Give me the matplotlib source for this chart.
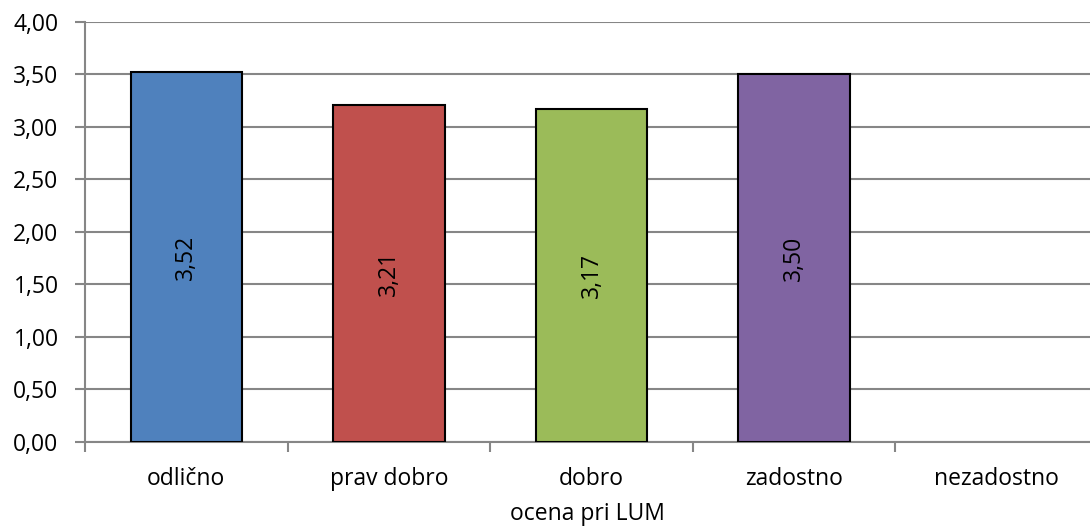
import matplotlib.pyplot as plt
import numpy as np

categories = ['odlično', 'prav dobro', 'dobro', 'zadostno', 'nezadostno']
values = [3.52, 3.21, 3.17, 3.50, 0.0]
colors = ['#4F81BD', '#C0504D', '#9BBB59', '#8064A2', '#4BACC6']
y_ticks = [0.0, 0.5, 1.0, 1.5, 2.0, 2.5, 3.0, 3.5, 4.0]

plt.rcParams['font.family'] = ['Open Sans', 'DejaVu Sans']
grid_col = '#868686'
fs = 16.5

fig = plt.figure(figsize=(10.9, 5.32), dpi=100)
W, H = 1090, 532
left, right, top, bottom = 85, 1098, 21.7, 441.7
ax = fig.add_axes([left / W, 1 - bottom / H, (right - left) / W, (bottom - top) / H])

x = np.arange(len(categories))
for i, (v, c) in enumerate(zip(values, colors)):
    if v <= 0:
        continue
    ax.bar(x[i], v, width=0.55, color=c, edgecolor='black', linewidth=1.5, zorder=3)
    ax.text(x[i], v / 2, f'{v:.2f}'.replace('.', ','), rotation=90,
            ha='center', va='center', fontsize=fs, zorder=4)

ax.set_xlim(-0.5, len(categories) - 0.5)
ax.set_ylim(0, 4)
ax.set_yticks(y_ticks)
ax.set_yticklabels([f'{t:.2f}'.replace('.', ',') for t in y_ticks], fontsize=fs)
ax.yaxis.grid(True, color=grid_col, linewidth=1.5, zorder=0)

# category labels at centres, tick marks at category boundaries
ax.set_xticks(np.arange(-0.5, len(categories), 1.0))
ax.set_xticklabels([])
ax.set_xticks(x, minor=True)
ax.set_xticklabels(categories, minor=True, fontsize=fs)
ax.tick_params(axis='x', which='major', length=7, width=1.5, color=grid_col)
ax.tick_params(axis='x', which='minor', length=0, pad=18)
ax.tick_params(axis='y', length=7, width=1.5, color=grid_col, pad=12)

for s in ['top', 'right']:
    ax.spines[s].set_visible(False)
for s in ['left', 'bottom']:
    ax.spines[s].set_color(grid_col)
    ax.spines[s].set_linewidth(1.5)

# axis title centred under the visible part of the plot
fig.text(587 / W, 1 - 514 / H, 'ocena pri LUM', fontsize=fs, ha='center', va='center')

fig.savefig('out.png', dpi=100)
